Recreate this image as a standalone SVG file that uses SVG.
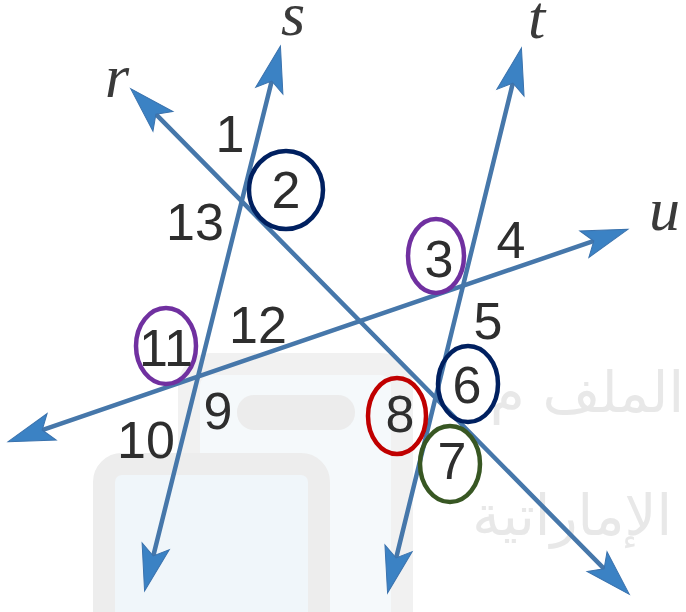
<svg xmlns="http://www.w3.org/2000/svg" width="686" height="612" viewBox="0 0 686 612">
<style>
.ln{stroke:#4677aa;stroke-width:4.5;fill:none;stroke-linecap:round;marker-start:url(#ah);marker-end:url(#ah)}
.num{font-family:"Liberation Sans",Arial,sans-serif;font-size:52px;fill:#2e2e2e;text-anchor:middle}
.var{font-family:"Liberation Serif","Times New Roman",serif;font-style:italic;font-size:62px;fill:#3a3a3a}
.ring{fill:none;stroke-width:4.5}
.wmt{font-family:"DejaVu Sans",sans-serif;font-size:56px;fill:#e8e8e8}
</style>
<defs>
<marker id="ah" markerUnits="userSpaceOnUse" markerWidth="60" markerHeight="60" refX="0" refY="0" orient="auto-start-reverse" overflow="visible">
<path d="M32,0 L-14,-14 L-4,0 L-14,14 Z" fill="#3b82c4" stroke="#3a72ad" stroke-width="1"/>
</marker>
</defs>
<rect width="686" height="612" fill="#ffffff"/>
<g id="watermark">
<rect x="189" y="364" width="213" height="290" rx="22" fill="#f5f9fb" stroke="#f1f1f1" stroke-width="22"/>
<rect x="237" y="395" width="118" height="35" rx="17" fill="#ececec"/>
<rect x="104" y="464" width="215" height="190" rx="18" fill="#f0f6fa" stroke="#ededed" stroke-width="22"/>
<text class="wmt" x="684" y="412" text-anchor="end">الملف م</text>
<text class="wmt" x="672" y="535" text-anchor="end">الإماراتية</text>
</g>
<g id="connectors">
<line class="ln" x1="272.7" y1="77.1" x2="152.3" y2="559.9"/>
<line class="ln" x1="153.1" y1="111.4" x2="606.9" y2="571.6"/>
<line class="ln" x1="513.8" y1="79.1" x2="395.2" y2="561.9"/>
<line class="ln" x1="597.6" y1="239.7" x2="38.4" y2="431.3"/>
</g>
<g id="line-labels">
<text class="var" x="105" y="97">r</text>
<text class="var" x="281" y="35">s</text>
<text class="var" x="528" y="38" font-size="56">t</text>
<text class="var" x="649" y="230">u</text>
</g>
<g id="angle-1"><text class="num" x="230" y="152">1</text></g>
<g id="angle-2"><ellipse class="ring" cx="286" cy="190" rx="37" ry="39" stroke="#002060"/><text class="num" x="286" y="208">2</text></g>
<g id="angle-13"><text class="num" x="195" y="240">13</text></g>
<g id="angle-3"><ellipse class="ring" cx="436" cy="256" rx="28" ry="37" stroke="#7030a0"/><text class="num" x="439" y="277">3</text></g>
<g id="angle-4"><text class="num" x="511" y="258">4</text></g>
<g id="angle-5"><text class="num" x="488" y="339">5</text></g>
<g id="angle-6"><ellipse class="ring" cx="468" cy="384" rx="30" ry="38" stroke="#002060"/><text class="num" x="467" y="403">6</text></g>
<g id="angle-7"><ellipse class="ring" cx="450" cy="464" rx="30" ry="38" stroke="#385723"/><text class="num" x="452" y="479">7</text></g>
<g id="angle-8"><ellipse class="ring" cx="397" cy="416" rx="29" ry="38" stroke="#c00000"/><text class="num" x="400" y="432">8</text></g>
<g id="angle-9"><text class="num" x="218" y="429">9</text></g>
<g id="angle-10"><text class="num" x="146" y="458">10</text></g>
<g id="angle-11"><ellipse class="ring" cx="166" cy="346" rx="30" ry="38" stroke="#7030a0"/><text class="num" x="166" y="366">11</text></g>
<g id="angle-12"><text class="num" x="258" y="343">12</text></g>
</svg>
